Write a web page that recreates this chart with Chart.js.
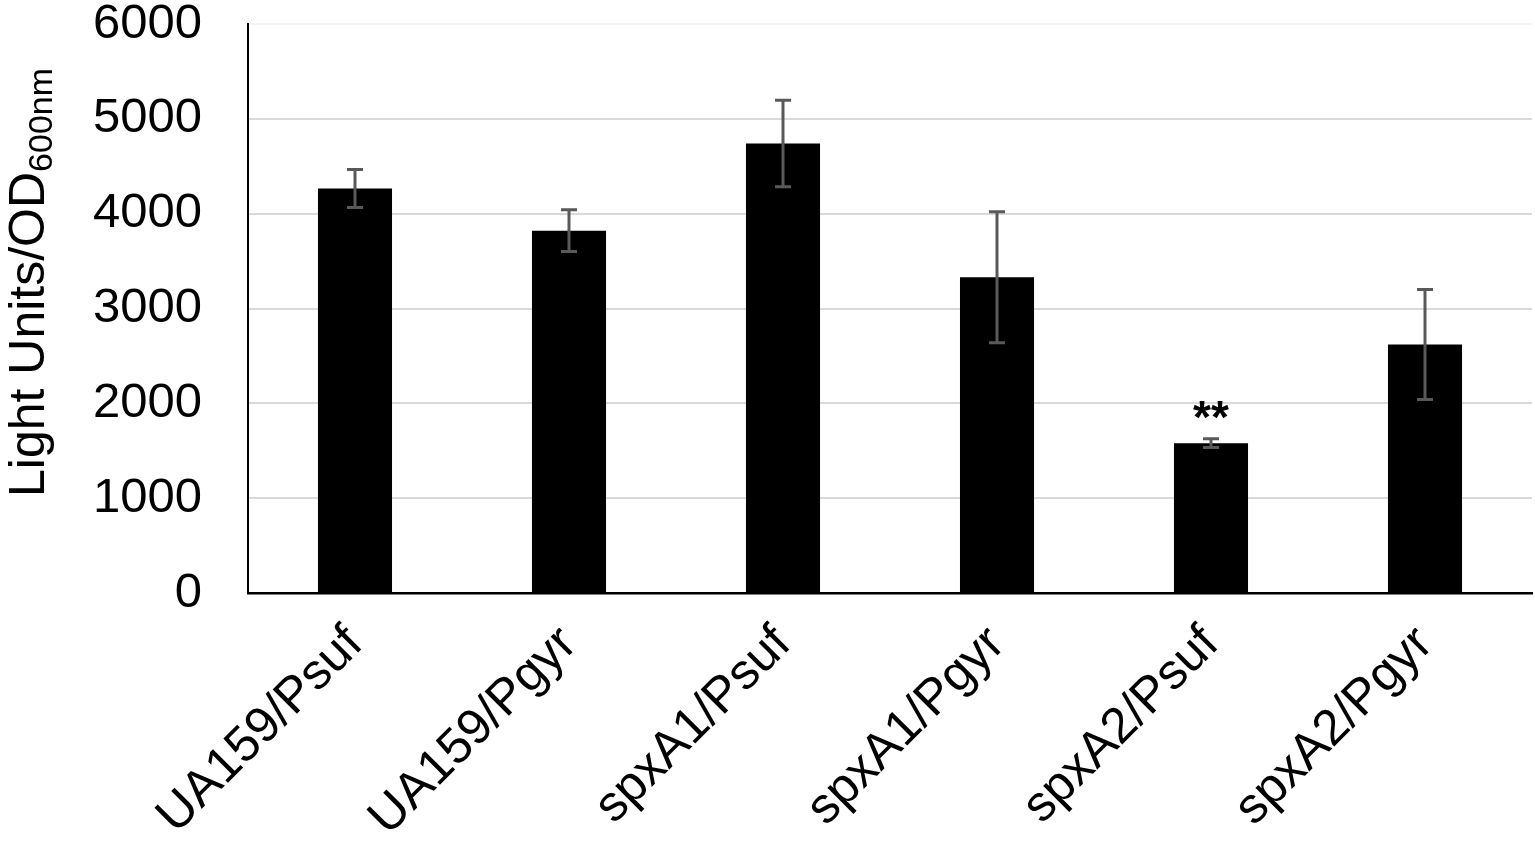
<!DOCTYPE html>
<html>
<head>
<meta charset="utf-8">
<title>Light Units / OD600nm</title>
<script src="https://cdn.jsdelivr.net/npm/chart.js@4.4.1/dist/chart.umd.min.js"></script>
<style>
    html, body { margin: 0; padding: 0; background: #fff; }
    #wrap { position: relative; width: 1535px; height: 844px; }
</style>
</head>
<body>
<div id="wrap"><canvas id="lightChart"></canvas></div>
<script>
const strains = ['UA159/Psuf', 'UA159/Pgyr', 'spxA1/Psuf', 'spxA1/Pgyr', 'spxA2/Psuf', 'spxA2/Pgyr'];
const lightUnits = [4265, 3820, 4740, 3330, 1580, 2620];
const errorBars = [200, 220, 456, 690, 46, 580];
const significance = ['', '', '', '', '**', ''];
const yTickValues = [0, 1000, 2000, 3000, 4000, 5000, 6000];

const FONT = '"Liberation Sans", Arial, sans-serif';

// error bars + significance stars, drawn from the scales
const errorBarPlugin = {
    id: 'errorBars',
    afterDatasetsDraw(chart) {
        const ctx = chart.ctx;
        const x = chart.scales.x;
        const y = chart.scales.y;
        ctx.save();
        ctx.strokeStyle = '#595959';
        ctx.lineWidth = 3;
        lightUnits.forEach((v, i) => {
            const px = x.getPixelForValue(i);
            const top = y.getPixelForValue(v + errorBars[i]);
            const bottom = y.getPixelForValue(v - errorBars[i]);
            ctx.beginPath();
            ctx.moveTo(px, top);
            ctx.lineTo(px, bottom);
            ctx.moveTo(px - 8, top);
            ctx.lineTo(px + 8, top);
            ctx.moveTo(px - 8, bottom);
            ctx.lineTo(px + 8, bottom);
            ctx.stroke();
            if (significance[i]) {
                ctx.fillStyle = '#000';
                ctx.font = 'bold 46px ' + FONT;
                ctx.textAlign = 'center';
                ctx.textBaseline = 'alphabetic';
                ctx.fillText(significance[i], px, top - 6);
            }
        });
        ctx.restore();
    }
};

// y title with subscript
const yTitlePlugin = {
    id: 'yTitle',
    afterDraw(chart) {
        const ctx = chart.ctx;
        ctx.save();
        ctx.translate(44, 497);
        ctx.rotate(-Math.PI / 2);
        ctx.fillStyle = '#000';
        ctx.textAlign = 'left';
        ctx.textBaseline = 'alphabetic';
        ctx.font = '50px ' + FONT;
        const main = 'Light Units/OD';
        ctx.fillText(main, 0, 0);
        const w = ctx.measureText(main).width;
        ctx.font = '34px ' + FONT;
        ctx.fillText('600nm', w, 8);
        ctx.restore();
    }
};

const ctx = document.getElementById('lightChart').getContext('2d');
new Chart(ctx, {
    type: 'bar',
    data: {
        labels: strains,
        datasets: [{
            data: lightUnits,
            backgroundColor: '#000000',
            borderWidth: 0,
            categoryPercentage: 1,
            barPercentage: 0.346
        }]
    },
    options: {
        responsive: true,
        maintainAspectRatio: false,
        animation: false,
        layout: {
            padding: { left: 0, right: 3, top: 0, bottom: 0 }
        },
        scales: {
            x: {
                afterFit(scale) { scale.height = 251; },
                grid: { display: false, drawTicks: false },
                border: { display: true, color: '#000', width: 2.5 },
                ticks: {
                    color: '#000',
                    font: { family: FONT, size: 50 },
                    minRotation: 45,
                    maxRotation: 45,
                    padding: 22,
                    autoSkip: false
                }
            },
            y: {
                min: 0,
                max: 6000,
                afterFit(scale) {
                    scale.width = 248;
                    scale.paddingTop = 24;
                    scale.paddingBottom = 0;
                },
                afterBuildTicks(scale) {
                    scale.ticks = yTickValues.map(v => ({ value: v }));
                },
                grid: {
                    drawTicks: false,
                    lineWidth: 2,
                    color: c => c.tick && c.tick.value === 6000 ? '#f4f4f4' : '#d9d9d9'
                },
                border: { display: true, color: '#000', width: 2 },
                ticks: {
                    color: '#000',
                    font: { family: FONT, size: 49 },
                    padding: 46,
                    callback: v => String(v)
                }
            }
        },
        plugins: {
            legend: { display: false },
            tooltip: { enabled: false }
        }
    },
    plugins: [errorBarPlugin, yTitlePlugin]
});
</script>
</body>
</html>
